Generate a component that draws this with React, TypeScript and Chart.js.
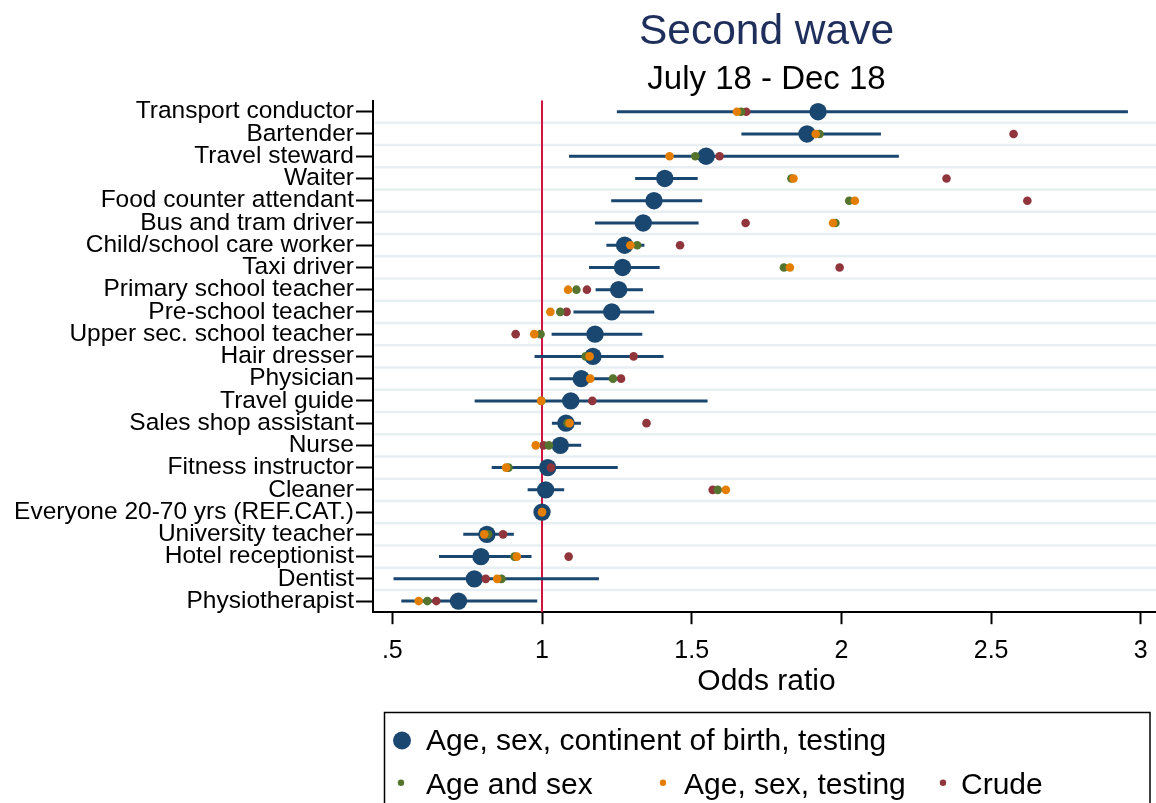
import React, { useEffect, useRef } from 'react';
import { Chart, registerables } from 'chart.js';

Chart.register(...registerables);

// ---------- data ----------
const occupations = [
  'Transport conductor',
  'Bartender',
  'Travel steward',
  'Waiter',
  'Food counter attendant',
  'Bus and tram driver',
  'Child/school care worker',
  'Taxi driver',
  'Primary school teacher',
  'Pre-school teacher',
  'Upper sec. school teacher',
  'Hair dresser',
  'Physician',
  'Travel guide',
  'Sales shop assistant',
  'Nurse',
  'Fitness instructor',
  'Cleaner',
  'Everyone 20-70 yrs (REF.CAT.)',
  'University teacher',
  'Hotel receptionist',
  'Dentist',
  'Physiotherapist',
];

// Age, sex, continent of birth, testing (with 95% CI)
const fullAdjusted = [1.922, 1.885, 1.548, 1.41, 1.374, 1.338, 1.276, 1.269, 1.256, 1.233, 1.177, 1.17, 1.131, 1.096, 1.08, 1.061, 1.019, 1.012, 1.0, 0.816, 0.796, 0.774, 0.721];
const ciLow = [1.25, 1.666, 1.09, 1.311, 1.231, 1.177, 1.215, 1.157, 1.179, 1.105, 1.032, 0.975, 1.025, 0.775, 1.033, 1.01, 0.832, 0.952, 1.0, 0.737, 0.656, 0.504, 0.53];
const ciHigh = [2.957, 2.132, 2.192, 1.52, 1.535, 1.523, 1.342, 1.393, 1.337, 1.375, 1.335, 1.406, 1.228, 1.553, 1.13, 1.131, 1.253, 1.074, 1.0, 0.906, 0.965, 1.19, 0.984];
// Age and sex
const ageSex = [1.665, 1.927, 1.512, 1.833, 2.026, 1.98, 1.318, 1.808, 1.115, 1.061, 0.995, 1.146, 1.237, 0.998, 1.085, 1.023, 0.888, 1.587, 1.0, 0.82, 0.908, 0.865, 0.617];
// Age, sex, testing
const ageSexTesting = [1.651, 1.914, 1.426, 1.84, 2.045, 1.972, 1.295, 1.828, 1.087, 1.028, 0.974, 1.159, 1.161, 0.997, 1.092, 0.979, 0.88, 1.614, 1.0, 0.807, 0.916, 0.85, 0.588];
// Crude
const crude = [1.682, 2.575, 1.593, 2.351, 2.621, 1.68, 1.461, 1.994, 1.15, 1.082, 0.912, 1.306, 1.264, 1.168, 1.349, 1.005, 1.03, 1.57, 1.0, 0.87, 1.089, 0.812, 0.647];

const xTickValues = [0.5, 1, 1.5, 2, 2.5, 3];
const referenceValue = 1;
const titleText = 'Second wave';
const subtitleText = 'July 18 - Dec 18';
const xAxisTitle = 'Odds ratio';
const legendLabels = ['Age, sex, continent of birth, testing', 'Age and sex', 'Age, sex, testing', 'Crude'];

// ---------- styles ----------
const NAVY = '#1a476f';
const GREEN = '#55752f';
const ORANGE = '#e37e00';
const MAROON = '#90353b';
const RED = '#d1123f';
const GRID = '#e8eff2';
const FONT = "'Liberation Sans', Arial, Helvetica, sans-serif";

const W = 1156;
const H = 803;

const overlayPlugin = {
  id: 'overlay',
  beforeDatasetsDraw(chart: any) {
    const { ctx, chartArea, scales } = chart;
    const ys = scales.y;
    const xs = scales.x;
    ctx.save();
    ctx.strokeStyle = GRID;
    ctx.lineWidth = 2.5;
    for (let i = 0; i < occupations.length - 1; i++) {
      const py = (ys.getPixelForValue(i) + ys.getPixelForValue(i + 1)) / 2;
      ctx.beginPath();
      ctx.moveTo(chartArea.left + 1.5, py);
      ctx.lineTo(chartArea.right, py);
      ctx.stroke();
    }
    const rx = xs.getPixelForValue(referenceValue);
    ctx.strokeStyle = RED;
    ctx.lineWidth = 2;
    ctx.beginPath();
    ctx.moveTo(rx, chartArea.top);
    ctx.lineTo(rx, chartArea.bottom);
    ctx.stroke();
    ctx.restore();
  },
  afterDraw(chart: any) {
    const { ctx, chartArea } = chart;
    const cx = (chartArea.left + chartArea.right) / 2 + 2;
    ctx.save();
    ctx.textAlign = 'center';
    ctx.textBaseline = 'alphabetic';
    ctx.fillStyle = '#1f2f5c';
    ctx.font = `42.5px ${FONT}`;
    ctx.fillText(titleText, cx, 43.5);
    ctx.fillStyle = '#000';
    ctx.font = `33px ${FONT}`;
    ctx.fillText(subtitleText, cx, 88.5);
    ctx.font = `30px ${FONT}`;
    ctx.fillText(xAxisTitle, cx, 689.5);

    // legend box
    ctx.strokeStyle = '#000';
    ctx.lineWidth = 1.5;
    ctx.strokeRect(384.5, 712.5, 765.5, 120);
    ctx.textAlign = 'left';
    ctx.font = `30px ${FONT}`;
    const dot = (x: number, y: number, r: number, c: string) => {
      ctx.fillStyle = c;
      ctx.beginPath();
      ctx.arc(x, y, r, 0, Math.PI * 2);
      ctx.fill();
    };
    dot(402, 740.5, 9, NAVY);
    ctx.fillStyle = '#000';
    ctx.fillText(legendLabels[0], 426, 750);
    dot(401, 782.7, 3.2, GREEN);
    ctx.fillStyle = '#000';
    ctx.fillText(legendLabels[1], 426, 794);
    dot(663, 782.7, 3.2, ORANGE);
    ctx.fillStyle = '#000';
    ctx.fillText(legendLabels[2], 684, 794);
    dot(943, 782.7, 3.2, MAROON);
    ctx.fillStyle = '#000';
    ctx.fillText(legendLabels[3], 961, 794);
    ctx.restore();
  },
};

export default function App() {
  const canvasRef = useRef<HTMLCanvasElement | null>(null);

  useEffect(() => {
    const canvas = canvasRef.current;
    if (!canvas) return;

    const ciData: any[] = [];
    occupations.forEach((o, i) => {
      ciData.push({ x: ciLow[i], y: o });
      ciData.push({ x: ciHigh[i], y: o });
      ciData.push({ x: null, y: o });
    });
    const pts = (arr: number[]) => occupations.map((o, i) => ({ x: arr[i], y: o }));

    const chart = new Chart(canvas, {
      type: 'scatter',
      data: {
        datasets: [
          {
            type: 'line',
            label: '95% CI',
            data: ciData,
            borderColor: NAVY,
            borderWidth: 3,
            pointRadius: 0,
            spanGaps: false,
            fill: false,
            order: 5,
          } as any,
          {
            label: legendLabels[0],
            data: pts(fullAdjusted),
            backgroundColor: NAVY,
            borderWidth: 0,
            pointRadius: 8.7,
            order: 4,
          },
          {
            label: legendLabels[3],
            data: pts(crude),
            backgroundColor: MAROON,
            borderWidth: 0,
            pointRadius: 4.3,
            order: 3,
          },
          {
            label: legendLabels[1],
            data: pts(ageSex),
            backgroundColor: GREEN,
            borderWidth: 0,
            pointRadius: 4.3,
            order: 2,
          },
          {
            label: legendLabels[2],
            data: pts(ageSexTesting),
            backgroundColor: ORANGE,
            borderWidth: 0,
            pointRadius: 4.3,
            order: 1,
          },
        ],
      },
      options: {
        animation: false,
        responsive: false,
        events: [],
        layout: { autoPadding: false, padding: { top: 100.6, left: 0, right: 0, bottom: 0 } },
        plugins: {
          legend: { display: false },
          title: { display: false },
          tooltip: { enabled: false },
        },
        scales: {
          x: {
            type: 'linear',
            min: 0.4355,
            max: 3.0507,
            afterBuildTicks: (s: any) => {
              s.ticks = xTickValues.map((v) => ({ value: v }));
            },
            afterFit: (s: any) => {
              s.height = H - 612.2;
              s.paddingLeft = 0;
              s.paddingRight = 0;
            },
            ticks: {
              autoSkip: false,
              maxRotation: 0,
              padding: 11.5,
              color: '#000',
              font: { family: FONT, size: 25 },
              callback: (v: any) => (v === 0.5 ? '.5' : String(v)),
            },
            grid: {
              drawOnChartArea: false,
              drawTicks: true,
              tickLength: 12,
              tickColor: '#000',
              tickWidth: 2,
            },
            border: { display: true, color: '#000', width: 2 },
          },
          y: {
            type: 'category',
            labels: occupations,
            offset: true,
            afterFit: (s: any) => {
              s.width = 373;
              s.paddingTop = 0;
              s.paddingBottom = 0;
            },
            ticks: {
              autoSkip: false,
              padding: 2,
              color: '#000',
              font: { family: FONT, size: 24.5 },
            },
            grid: {
              drawOnChartArea: false,
              drawTicks: true,
              offset: false,
              tickLength: 17,
              tickColor: '#000',
              tickWidth: 2,
            },
            border: { display: true, color: '#000', width: 2 },
          },
        },
      } as any,
      plugins: [overlayPlugin],
    });

    return () => chart.destroy();
  }, []);

  return (
    <div
      style={{
        position: 'fixed',
        left: 0,
        top: 0,
        width: W,
        height: H,
        overflow: 'hidden',
        background: '#fff',
      }}
    >
      <canvas ref={canvasRef} width={W} height={H} style={{ display: 'block', width: W, height: H }} />
    </div>
  );
}
